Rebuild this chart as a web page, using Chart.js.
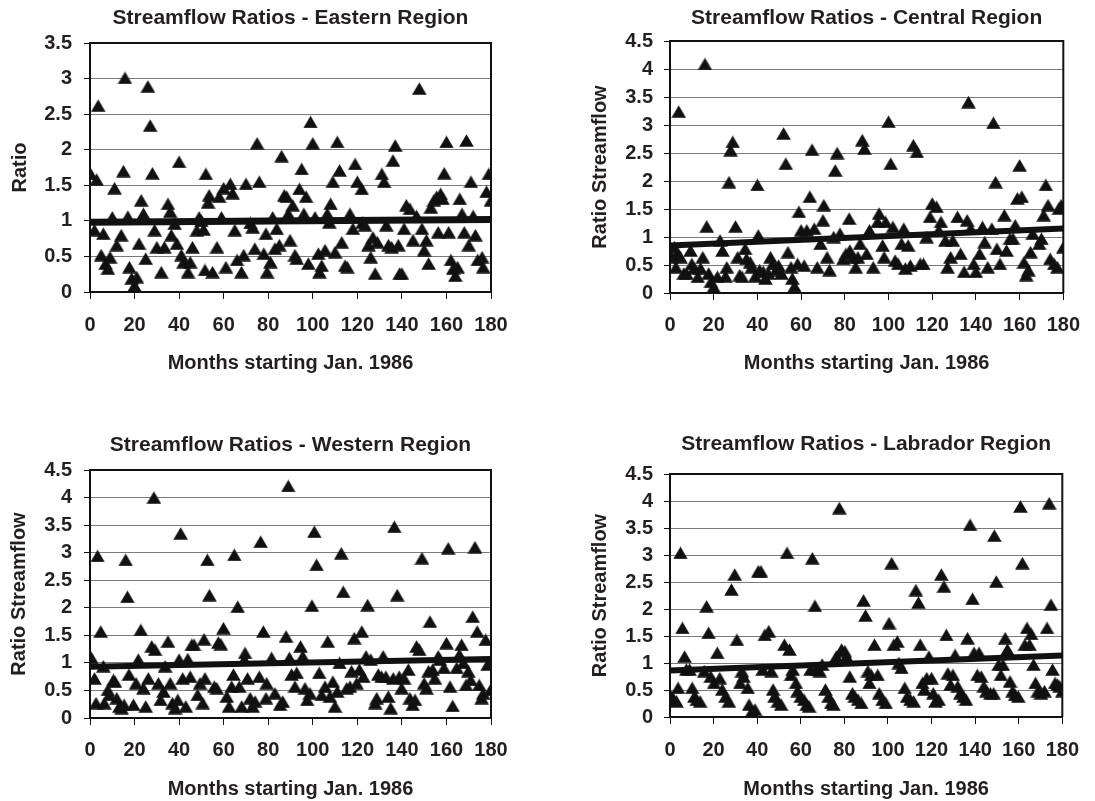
<!DOCTYPE html>
<html>
<head>
<meta charset="utf-8">
<script src="https://cdn.jsdelivr.net/npm/chart.js@4/dist/chart.umd.min.js"></script>
<style>
  html, body { margin: 0; padding: 0; background: #fff; }
  #wrap { position: relative; width: 1095px; height: 801px; }
  canvas { position: absolute; }
</style>
</head>
<body>
<div id="wrap">
  <canvas id="east" width="547" height="400" style="left:0;top:0"></canvas>
  <canvas id="central" width="548" height="400" style="left:547px;top:0"></canvas>
  <canvas id="west" width="547" height="401" style="left:0;top:400px"></canvas>
  <canvas id="lab" width="548" height="401" style="left:547px;top:400px"></canvas>
</div>
<script>
// month index (0 = Jan. 1986) and streamflow ratio
const eastMonths = [0.3,2,3,3.7,5,6,7,8,9,10, 11,12,14,15,15.7,17,17.7,18.7,20,21, 22,23,24,25,26,27,28,29,30,32,
  33.4,35,36,36.5,38,39,40,41,42,44, 45,46,48,49,50,51,51.6,52,53,53.5, 55,57,58,59,60,61,63,64,65,66,
  68,69,70,72,73,74,75,76,78,79, 79.5,81,82,83,83.8,85,86,87.2,88.3,89, 89.8,91,92,92.8,94,95,96,97,98,99,
  100,101,102.5,103,104,105.5,106.5,107.4,108,109, 110,111,112,113,114.5,115.5,116.7,118,119,120,
  122,122.4,123.4,125,126,127,128,129,131,132, 133,134,135.4,136,137,138.4,139,140,141,142,
  143.6,145,146.6,147.8,149,150,151,152,153,154.4, 155.6,156.3,157.4,158.3,159,160,161,162,163,164,
  165,166,167,168,169,170,171,172,173,174, 176,176.5,178,179,180];
const eastRatios = [1.66,0.87,1.58,2.62,0.52,0.82,0.4,0.33,0.49,1.05, 1.46,0.66,0.8,1.7,3.01,1.06,0.35,0.19,0.09,0.21,
  0.68,1.29,1.1,0.47,2.89,2.34,1.67,0.87,0.63,0.28, 0.63,1.24,1.13,0.8,0.96,0.68,1.83,0.52,0.42,0.28,
  0.42,0.63,0.87,1.05,1.0,0.88,0.31,1.66,1.26,1.36, 0.28,0.63,1.34,1.05,1.46,0.35,1.52,1.39,0.87,0.45,
  0.28,0.52,1.52,0.97,0.91,0.61,2.09,1.55,0.54,0.82, 0.28,0.42,1.05,0.61,0.89,0.66,1.91,1.36,1.34,1.1,
  0.73,1.22,0.52,0.47,1.45,1.73,1.1,1.34,0.4,2.39, 2.09,1.05,0.54,0.28,0.37,0.59,1.1,0.98,1.24,1.55,
  0.56,2.11,1.71,0.7,0.37,0.35,1.1,0.89,1.8,1.55, 1.45,0.98,0.94,0.66,0.49,0.77,0.26,0.7,1.66,1.55,
  0.94,0.66,0.63,1.85,2.06,0.66,0.26,0.26,0.89,1.22, 1.17,0.73,1.07,2.86,0.89,0.59,0.73,0.4,1.19,1.29,
  1.34,0.84,1.38,1.31,1.67,2.11,0.84,0.45,0.33,0.23, 0.35,1.31,1.1,0.84,2.13,0.66,1.55,1.07,0.8,0.45,
  0.49,0.35,1.41,1.66,1.29];

const centralMonths = [0.7,2,2.7,3.3,4,4.8,6.3,7.5,9.4,10, 11,12.7,14,15,16,16.8,17.7,18.7,20,21.7,
  22.9,24,25.4,26,27,27.7,28.7,30,31,31.9, 33,34.4,35,36.7,37.4,39,40,40.4,41,42.7,
  43.7,45,46,47,48.7,49.7,51,52,53,54, 55.4,56,57,58.4,59,60,61.4,62.6,64,65,
  66,67.4,68.9,70,70.4,71.9,73,74.9,75.6,76.5, 77.8,79.3,80.5,82,82.3,83.8,85,86,87,88,
  89,90,91.3,93,95,95.7,97.3,98,98.7,100, 101,102,103,104.4,106,107,107.7,109,110,111.4,
  113,114.5,116,117.4,119,120,122,123,124,126, 127,128.4,129.4,131.6,133,134.6,136,136.6,137.6,139,
  140,141.7,143,144,145.4,147.3,148,149,149.6,151, 153,154,155.6,157,158,159,160,161,162,163,
  164,165,166,169,170,171,172,173,174,175.8, 177.3,178,179,180];
const centralRatios = [0.64,0.82,0.46,0.7,3.24,0.64,0.35,0.35,0.76,0.52, 0.44,0.29,0.44,0.64,4.09,1.19,0.35,0.2,0.11,0.29,
  0.94,0.76,0.3,0.46,1.98,2.55,2.7,1.19,0.64,0.32, 0.29,0.79,0.61,0.55,0.46,0.3,1.93,1.03,0.41,0.38,
  0.26,0.35,0.64,0.52,0.41,0.49,0.35,2.85,2.31,0.73, 0.46,0.26,0.12,0.52,1.45,1.12,0.49,1.12,1.72,2.56,
  1.15,0.46,0.88,1.3,1.57,0.64,0.41,1.0,2.19,2.5, 1.06,0.61,0.7,1.33,0.76,0.64,0.46,0.64,0.88,2.73,
  2.58,0.7,1.12,0.46,1.27,1.42,0.85,0.64,1.27,3.06, 2.31,1.18,0.58,0.52,0.88,1.15,0.44,0.85,0.49,2.64,
  2.52,0.52,0.52,1.0,1.36,1.6,1.54,1.12,1.27,0.94, 0.46,0.64,0.94,1.36,0.7,0.38,1.3,3.41,1.15,0.52,
  0.38,0.7,1.18,0.91,0.46,1.15,3.04,1.98,0.79,0.52, 1.39,0.76,0.97,0.97,1.21,1.69,2.28,1.72,0.55,0.32,
  0.41,0.73,1.06,0.88,0.97,1.39,1.93,1.57,0.61,0.52, 0.46,1.51,1.57,0.82];

const westMonths = [0.7,2,2.7,3.4,4.8,6,6.4,8,8.7,10.5, 11.2,12,13.2,14.2,15.3,16,16.8,17.5,19.5,20.7,
  21.7,22.8,24,25,26.2,27.7,28.7,29.2,30.7,31.7, 33,33.7,35,36,37,38.2,39.4,40,40.7,41.6,
  43,43.9,45,45.7,46.7,48.3,49.4,50.6,51.2,51.6, 52.7,53.6,55.8,56.9,57.6,58.7,59.9,61.4,62.4,63.6,
  64.4,64.8,66.3,67,68.1,69.3,69.6,70.7,71.9,73, 74.1,76,76.6,77.8,79,79.3,81.5,83,85.3,86.5,
  88,89,89.5,90.5,92,92.8,94.5,95.5,96.5,97.5, 98.7,99.6,100.7,101.7,102.9,104,105.5,106.7,107.7,109,
  110,111,112,112.8,113.7,115.2,116.7,117.4,118.6,119.7, 120.9,122,122.7,123.9,124.6,126,128,128.7,129.4,130.9,
  131.6,132.8,133.9,135,136.1,136.6,137.9,138.8,139.9,141, 142.9,143.6,144.8,145.9,146.6,147.8,149,150,151,152,
  152.6,153.8,154.8,156.3,157,158.9,160,160.8,161.6,162.8, 164.6,165.8,166.8,167.6,168.8,169.8,170.9,171.8,172.8,173.8,
  174.7,175.8,176.5,177.6,178.5,179.8];
const westRatios = [1.09,0.72,0.27,2.94,1.57,0.94,0.27,0.51,0.42,0.69, 0.66,0.36,0.21,0.18,0.24,2.87,2.2,0.79,0.24,0.63,
  1.06,1.6,0.54,0.21,0.72,1.3,4.0,1.24,0.63,0.33, 0.48,0.94,1.39,0.63,0.27,0.18,0.33,1.06,3.35,0.72,
  0.21,1.07,0.75,1.33,1.33,0.42,0.63,0.27,1.43,0.72, 2.87,2.23,0.57,0.54,1.37,1.34,1.63,0.39,0.21,0.57,
  0.79,2.96,2.02,0.57,0.21,1.06,1.18,0.72,0.36,0.21, 0.3,0.75,3.2,1.57,0.36,0.63,1.09,0.45,0.24,0.3,
  1.48,4.21,1.09,0.79,0.57,0.82,1.3,1.12,0.54,0.33, 0.45,2.04,3.38,2.78,0.82,0.42,0.57,1.39,0.39,0.66,
  0.21,0.48,1.0,2.99,2.29,0.54,0.57,0.85,1.45,0.63, 0.88,1.57,0.75,1.12,2.05,1.06,0.27,0.36,0.79,0.75,
  1.12,0.75,0.39,0.18,0.72,3.47,2.23,0.75,0.54,0.72, 0.88,0.36,0.24,0.33,1.3,1.24,2.9,0.63,0.54,0.85,
  1.75,0.88,0.72,1.12,1.06,0.91,1.36,3.08,0.57,0.22, 0.91,1.15,1.33,1.0,0.6,0.85,0.69,1.84,3.1,1.57,
  0.6,0.36,0.45,1.42,0.97,0.51];

const labMonths = [0.75,1.8,3,3.7,4.8,5.7,6.7,7.5,9,10.2, 11.2,12.3,13.8,15.7,16.8,17.7,18.7,20.2,21.7,22.8,
  24,25.5,27,28.2,29.7,30.7,32.2,33,33.7,35.7, 36.3,37.5,39,40.5,41.7,42.5,43.5,45.3,46.5,47.3,
  48,49.5,51,52.5,53.7,54.8,55.5,56.3,57.8,58.5, 60,61.5,62.7,63.8,64.5,65.3,66.5,67.2,68.7,69.8,
  71.3,72.8,73.9,75,76.3,77.7,78.7,80.2,81,82.5, 83.7,84.8,86.3,87.8,88.8,89.7,90.8,91.5,92.3,93.8,
  95.3,96,97.5,99,100.5,101.7,102.7,104.3,105,106.2, 107.7,108.8,110.3,111.8,112.8,114,114.8,115.8,116.7,117.8,
  118.8,120,120.8,121.8,123.3,124.5,125.7,126.8,127.5,128.7, 129.8,130.8,132,133.2,134.7,135.8,136.5,137.7,138.8,139.5,
  141,141.8,142.8,144,145.2,147,148.5,148.8,149.7,150.8, 151.8,152.7,153.8,154.8,156,157.2,158.3,159.8,160.8,161.7,
  162.8,163.8,165,165.7,166.8,167.7,168.8,170.2,171.8,173, 174,174.8,175.5,176.7,177.8,178.8,180];
const labRatios = [0.38,0.32,0.29,0.54,3.04,1.65,1.12,0.88,0.88,0.54, 0.38,0.32,0.29,0.85,2.05,1.56,0.75,0.63,1.19,0.72,
  0.51,0.38,0.29,2.36,2.64,1.43,0.63,0.85,0.75,0.54, 0.23,0.1,0.14,2.7,2.7,0.88,1.52,1.59,0.85,0.51,
  0.38,0.29,0.23,1.34,3.04,1.25,0.78,0.88,0.63,0.48, 0.38,0.32,0.23,0.2,0.88,2.94,2.06,0.88,0.85,0.97,
  0.51,0.38,0.26,0.23,1.12,3.87,1.25,1.22,1.12,0.75, 0.44,0.38,0.32,0.26,2.16,1.88,0.85,0.63,0.78,1.34,
  0.78,0.44,0.32,0.26,1.74,2.85,1.34,1.4,1.0,0.91, 0.54,0.38,0.32,0.29,2.35,2.12,1.34,0.63,0.51,0.72,
  1.12,0.72,0.44,0.29,0.32,2.64,2.42,1.52,0.81,0.6, 0.78,1.15,0.57,0.44,0.38,0.32,1.46,3.56,2.19,1.19,
  0.78,1.19,0.75,0.57,0.48,0.44,0.44,3.36,2.51,0.97, 0.78,0.97,1.46,1.25,0.66,0.48,0.41,0.38,3.9,2.85,
  1.34,1.65,1.34,1.54,0.97,0.63,0.48,0.44,0.48,1.65, 3.96,2.08,0.88,0.63,0.6,0.57,0.48];

// linear trend end points (month 0 and month 180)
const trendMonths = [0, 180];
const eastTrend = [0.98, 1.02];
const centralTrend = [0.85, 1.15];
const westTrend = [0.93, 1.07];
const labTrend = [0.86, 1.14];

const FONT = '"Liberation Sans", Arial, Helvetica, sans-serif';
const INK = '#231f20';

// Excel-like triangle marker, centred on its bounding box
const tri = document.createElement('canvas');
tri.width = 15; tri.height = 13;
(function () {
    const c = tri.getContext('2d');
    c.fillStyle = '#111';
    c.beginPath();
    c.moveTo(7.5, 0.2);
    c.lineTo(14.8, 12.8);
    c.lineTo(0.2, 12.8);
    c.closePath();
    c.fill();
})();

const frame = {
    id: 'frame',
    afterDraw(chart) {
        const a = chart.chartArea, ctx = chart.ctx;
        ctx.save();
        ctx.strokeStyle = '#111';
        ctx.lineWidth = 2;
        ctx.beginPath();
        ctx.moveTo(a.left, a.top);
        ctx.lineTo(a.right, a.top);
        ctx.lineTo(a.right, a.bottom);
        ctx.stroke();
        ctx.restore();
    }
};

const pairs = (xs, ys) => xs.map((x, i) => ({ x: x, y: ys[i] }));

function makeChart(id, p) {
    new Chart(document.getElementById(id), {
        type: 'scatter',
        data: {
            datasets: [
                {
                    data: pairs(trendMonths, p.trend),
                    showLine: true,
                    borderColor: '#111',
                    borderWidth: p.trendWidth,
                    pointRadius: 0,
                    order: 0
                },
                {
                    data: pairs(p.months, p.ratios),
                    pointStyle: tri,
                    pointRadius: 7,
                    order: 1
                }
            ]
        },
        options: {
            responsive: false,
            animation: false,
            devicePixelRatio: 1,
            layout: { padding: p.pad },
            plugins: {
                legend: { display: false },
                tooltip: { enabled: false },
                title: {
                    display: true,
                    text: p.title,
                    fullSize: false,
                    color: INK,
                    font: { family: FONT, size: 21, weight: 'bold', lineHeight: 1 },
                    padding: p.titlePad
                }
            },
            scales: {
                x: {
                    type: 'linear',
                    min: 0, max: 180,
                    afterFit: s => { s.height = p.xHeight; },
                    ticks: {
                        stepSize: 20, autoSkip: false, maxRotation: 0,
                        padding: p.xTickPad, color: INK,
                        font: { family: FONT, size: 20, weight: 'bold', lineHeight: 1 }
                    },
                    grid: { drawOnChartArea: false, drawTicks: true, tickLength: 7, tickColor: '#111', tickWidth: 1 },
                    border: { display: true, color: '#111', width: 2 },
                    title: {
                        display: true, text: 'Months starting Jan. 1986', color: INK,
                        font: { family: FONT, size: 20, weight: 'bold', lineHeight: 1 },
                        padding: { top: 0, bottom: 0 }
                    }
                },
                y: {
                    min: 0, max: p.yMax,
                    afterFit: s => { s.width = p.yWidth; },
                    ticks: {
                        stepSize: 0.5, padding: p.yTickPad, color: INK,
                        callback: v => String(v),
                        font: { family: FONT, size: 20, weight: 'bold', lineHeight: 1 }
                    },
                    grid: { color: '#7a7a7a', lineWidth: 1, tickLength: 6, tickColor: '#111' },
                    border: { display: true, color: '#111', width: 2 },
                    title: {
                        display: true, text: p.yTitle, color: INK,
                        font: { family: FONT, size: 20, weight: 'bold', lineHeight: 1 },
                        padding: { top: p.yTitlePad, bottom: 0 }
                    }
                }
            }
        },
        plugins: [frame]
    });
}

makeChart('east', {
    title: 'Streamflow Ratios - Eastern Region', yTitle: 'Ratio', yMax: 3.5,
    months: eastMonths, ratios: eastRatios, trend: eastTrend, trendWidth: 7,
    pad: { left: 0, right: 56, top: 0, bottom: 27 },
    titlePad: { top: 7.5, bottom: 14.5 },
    yWidth: 90, yTitlePad: 10, yTickPad: 12, xHeight: 81, xTickPad: 16
});
makeChart('central', {
    title: 'Streamflow Ratios - Central Region', yTitle: 'Ratio Streamflow', yMax: 4.5,
    months: centralMonths, ratios: centralRatios, trend: centralTrend, trendWidth: 6,
    pad: { left: 0, right: 24, top: 0, bottom: 27 },
    titlePad: { top: 8, bottom: 12 },
    yWidth: 123, yTitlePad: 43, yTickPad: 11, xHeight: 80, xTickPad: 15
});
makeChart('west', {
    title: 'Streamflow Ratios - Western Region', yTitle: 'Ratio Streamflow', yMax: 4.5,
    months: westMonths, ratios: westRatios, trend: westTrend, trendWidth: 6,
    pad: { left: 0, right: 56, top: 0, bottom: 2 },
    titlePad: { top: 34.5, bottom: 14.5 },
    yWidth: 90, yTitlePad: 9.5, yTickPad: 12, xHeight: 81, xTickPad: 15
});
makeChart('lab', {
    title: 'Streamflow Ratios - Labrador Region', yTitle: 'Ratio Streamflow', yMax: 4.5,
    months: labMonths, ratios: labRatios, trend: labTrend, trendWidth: 6,
    pad: { left: 0, right: 25, top: 0, bottom: 2 },
    titlePad: { top: 33.5, bottom: 19.5 },
    yWidth: 123, yTitlePad: 43, yTickPad: 11, xHeight: 82, xTickPad: 16
});
</script>
</body>
</html>
